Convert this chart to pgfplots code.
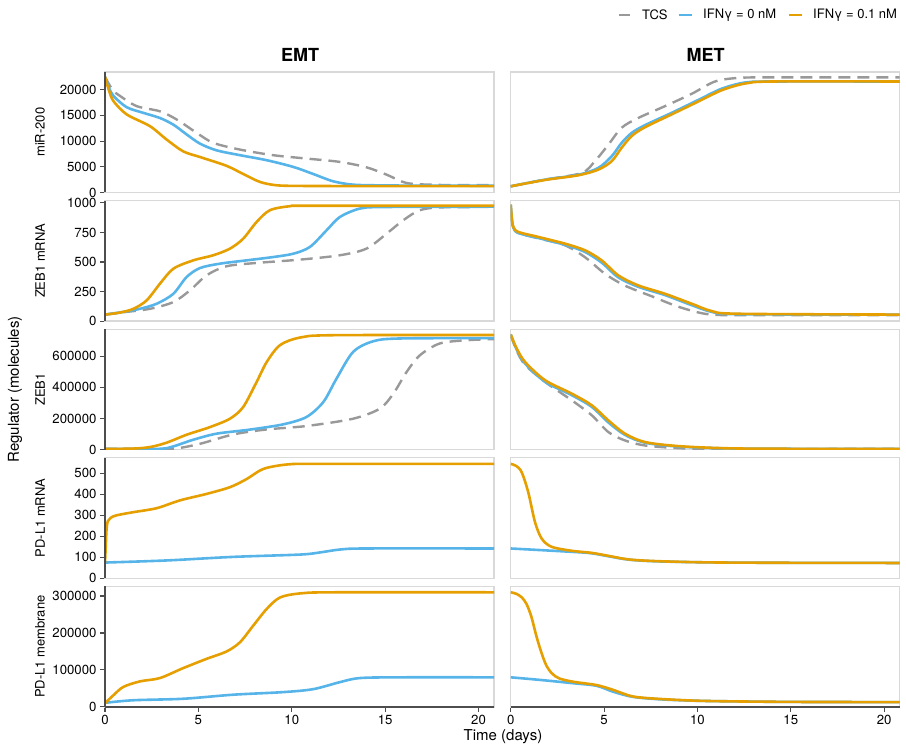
\documentclass[border=0pt]{standalone}
\usepackage{fontspec}
\setmainfont{TeX Gyre Heros}
\usepackage{pgfplots}
\pgfplotsset{compat=1.18}
\definecolor{cgray}{HTML}{999999}
\definecolor{cblue}{HTML}{56B4E9}
\definecolor{corange}{HTML}{E69F00}
\definecolor{bordergray}{HTML}{D9D9D9}
\definecolor{axisgray}{HTML}{4D4D4D}

\pgfplotsset{
  panel/.style={
    scale only axis, width=389pt, height=120.5pt,
    xmin=0, xmax=20.83, ymin=0,
    axis line style={draw=bordergray, line width=1.3pt},
    tick style={draw=axisgray, line width=1.1pt},
    major tick length=5pt, tick align=outside, tick pos=left,
    ticklabel style={font=\fontsize{13.2}{16}\selectfont},
    /pgf/number format/fixed,
    /pgf/number format/precision=0,
    /pgf/number format/1000 sep={},
    /pgf/number format/assume math mode=true,
    scaled ticks=false,
    xtick=\empty,
  },
  leftcol/.style={panel, at={(105pt,#1)},
    ylabel style={at={(axis description cs:-0.167,0.5)}, anchor=center, font=\fontsize{13}{15}\selectfont},
    after end axis/.append code={\draw[axisgray,line width=1.8pt] (rel axis cs:0,0)--(rel axis cs:0,1);}},
  rightcol/.style={panel, at={(510.7pt,#1)}, ytick=\empty},
  bottomrow/.style={xtick={0,5,10,15,20},
    after end axis/.append code={\draw[axisgray,line width=1.8pt] (rel axis cs:0,0)--(rel axis cs:1,0);}},
  tcs/.style={cgray, line width=2.4pt, dash pattern=on 12pt off 7pt, smooth},
  ifnz/.style={cblue, line width=2.6pt, smooth},
  ifno/.style={corange, line width=2.6pt, smooth},
}

\begin{document}
\begin{tikzpicture}
\useasboundingbox (0,0) rectangle (906pt,749pt);

% ---------------- Row 1: miR-200 ----------------
\begin{axis}[leftcol=556.5pt, ymax=23450, ytick={0,5000,10000,15000,20000}, ylabel={miR-200}]
\addplot[tcs] coordinates {(0,22500)(0.4,20000)(0.8,18800)(1.7,16800)(2.94,15800)(3.84,14200)(4.91,11600)(5.8,9660)(7.23,8350)(9.0,7260)(10.8,6600)(12.58,5950)(14.0,4900)(15.08,3470)(16.15,1850)(17.6,1500)(19,1450)(20.83,1450)};
\addplot[ifnz] coordinates {(0,22500)(0.2,20500)(0.45,18800)(1.16,16600)(2.05,15500)(2.94,14500)(3.66,13200)(4.37,11300)(5.09,9500)(5.98,8200)(7.23,7260)(8.66,6280)(10.08,4980)(11.15,3600)(12.22,2180)(13.29,1520)(14.9,1380)(17,1330)(20.83,1320)};
\addplot[ifno] coordinates {(0,22500)(0.2,20000)(0.45,17800)(1.16,15200)(2.41,12900)(3.3,10300)(4.19,8000)(5.09,6900)(6.5,5200)(7.4,3600)(8.3,2050)(9.19,1400)(10.4,1280)(13,1250)(20.83,1250)};
\end{axis}
\begin{axis}[rightcol=556.5pt, ymax=23450]
\addplot[tcs] coordinates {(0,1200)(1.84,2500)(3.8,3800)(4.51,6100)(5.23,9300)(5.94,12600)(6.83,14500)(8.26,16800)(9.69,19200)(10.94,21600)(12.2,22300)(14,22400)(20.83,22400)};
\addplot[ifnz] coordinates {(0,1200)(1.84,2500)(3.62,3450)(4.69,4780)(5.41,7060)(5.94,9660)(6.48,11600)(7.19,13100)(8.62,15500)(10.04,18000)(11.3,20200)(12.54,21400)(14,21600)(20.83,21600)};
\addplot[ifno] coordinates {(0,1200)(1.84,2440)(3.62,3350)(4.69,4450)(5.41,6100)(5.94,8700)(6.48,11000)(7.19,12700)(8.62,15200)(10.04,17700)(11.3,19900)(12.54,21200)(14,21600)(20.83,21600)};
\end{axis}

% ---------------- Row 2: ZEB1 mRNA ----------------
\begin{axis}[leftcol=427.9pt, ymax=1019.5, ytick={0,250,500,750,1000}, ylabel={ZEB1 mRNA}]
\addplot[tcs] coordinates {(0,55)(1,75)(2.41,104)(3.66,161)(4.55,260)(5.44,387)(6.51,464)(8.12,492)(10.44,520)(12.58,557)(14.0,613)(15.08,740)(15.97,853)(16.86,938)(18.0,962)(20.83,965)};
\addplot[ifnz] coordinates {(0,55)(1,78)(1.87,104)(2.77,147)(3.66,231)(4.37,373)(5.09,449)(6.16,486)(7.59,514)(9.01,542)(10.08,570)(10.97,627)(11.87,769)(12.58,881)(13.65,952)(14.9,965)(20.83,968)};
\addplot[ifno] coordinates {(0,55)(0.8,72)(1.52,104)(2.23,175)(2.94,316)(3.66,443)(4.73,514)(5.8,557)(6.69,613)(7.4,697)(8.12,839)(8.83,938)(9.9,972)(11,976)(20.83,976)};
\end{axis}
\begin{axis}[rightcol=427.9pt, ymax=1019.5]
\addplot[tcs] coordinates {(0,985)(0.05,880)(0.14,795)(0.41,745)(1.48,700)(2.91,641)(3.98,540)(5.05,400)(6.12,300)(7.55,210)(8.97,122)(10.4,62)(12,50)(20.83,50)};
\addplot[ifnz] coordinates {(0,985)(0.05,880)(0.14,790)(0.41,745)(1.48,703)(2.91,645)(3.98,585)(4.87,495)(5.76,370)(6.83,290)(8.26,220)(9.69,135)(10.76,78)(12.2,58)(20.83,55)};
\addplot[ifno] coordinates {(0,985)(0.05,885)(0.14,797)(0.41,754)(1.48,712)(2.91,655)(3.98,599)(4.87,514)(5.76,387)(6.83,302)(8.26,231)(9.69,147)(10.76,85)(12.2,62)(20.83,55)};
\end{axis}

% ---------------- Row 3: ZEB1 ----------------
\begin{axis}[leftcol=299.3pt, ymax=773600, ytick={0,200000,400000,600000}, ylabel={ZEB1}]
\addplot[tcs] coordinates {(0,5000)(2,5000)(3.66,6000)(5.09,38000)(6.87,98000)(8.66,130000)(10.79,152000)(13.29,199000)(14.72,264000)(15.44,360000)(16.15,499000)(16.86,606000)(17.93,682000)(19.4,703000)(20.83,710000)};
\addplot[ifnz] coordinates {(0,5000)(2,6000)(3.3,10000)(4.73,64000)(5.98,103000)(7.76,129000)(9.55,163000)(10.79,210000)(11.69,306000)(12.4,457000)(13.29,628000)(14.36,696000)(15.8,714000)(20.83,716000)};
\addplot[ifno] coordinates {(0,5000)(1.5,7000)(2.41,17000)(3.3,45000)(4.37,96000)(5.62,145000)(6.69,199000)(7.4,274000)(8.12,435000)(8.66,563000)(9.37,671000)(10.44,720000)(12.2,735000)(20.83,736000)};
\end{axis}
\begin{axis}[rightcol=299.3pt, ymax=773600]
\addplot[tcs] coordinates {(0,740000)(0.3,640000)(0.77,545000)(1.84,435000)(3.27,317000)(4.34,221000)(5.23,113000)(6.12,59000)(7.19,27000)(8.97,10000)(11,5000)(20.83,5000)};
\addplot[ifnz] coordinates {(0,740000)(0.3,648000)(0.77,553000)(1.84,436000)(3.27,350000)(4.34,275000)(5.23,175000)(6.12,95000)(7.19,45000)(8.97,20000)(11.3,9000)(14,6000)(20.83,5000)};
\addplot[ifno] coordinates {(0,740000)(0.3,655000)(0.77,563000)(1.84,446000)(3.27,360000)(4.34,285000)(5.23,188000)(6.12,103000)(7.19,49000)(8.97,23000)(11.3,10000)(14,6000)(20.83,5000)};
\end{axis}

% ---------------- Row 4: PD-L1 mRNA ----------------
\begin{axis}[leftcol=170.7pt, ymax=574, ytick={0,100,200,300,400,500}, ylabel={PD-L1 mRNA}]
\addplot[ifnz] coordinates {(0,75)(3.3,85)(6.87,102)(10.44,113)(11.5,123)(12.58,137)(13.97,142)(20.83,142)};
\addplot[ifno] coordinates {(0,75)(0.04,150)(0.08,230)(0.15,272)(0.3,288)(0.62,300)(1.52,315)(2.77,334)(4.01,371)(5.44,402)(6.69,434)(7.59,473)(8.48,521)(9.73,542)(11.3,545)(20.83,545)};
\end{axis}
\begin{axis}[rightcol=170.7pt, ymax=574]
\addplot[ifnz] coordinates {(0,142)(3.27,126)(4.34,119)(5.23,105)(6.3,89)(7.73,81)(10.4,76)(14,74)(20.83,73)};
\addplot[ifno] coordinates {(0,545)(0.3,535)(0.59,505)(0.94,410)(1.3,268)(1.66,189)(2.19,150)(3.27,131)(4.34,121)(5.23,107)(6.3,90)(7.73,82)(10.4,76)(14,74)(20.83,73)};
\end{axis}

% ---------------- Row 5: PD-L1 membrane ----------------
\begin{axis}[leftcol=42.1pt, bottomrow, ymax=326000, ytick={0,100000,200000,300000}, ylabel={PD-L1 membrane}]
\addplot[ifnz] coordinates {(0,11000)(1.52,18000)(4.19,22000)(6.87,33000)(9.55,40000)(11.15,48000)(12.58,67000)(13.65,78000)(15.8,80000)(20.83,80000)};
\addplot[ifno] coordinates {(0,10000)(0.45,31500)(0.98,54000)(1.87,69000)(2.94,78000)(4.19,105000)(5.44,130000)(6.51,150000)(7.23,175000)(7.94,220000)(8.66,265000)(9.37,296000)(10.44,307000)(12.2,310000)(20.83,310000)};
\end{axis}
\begin{axis}[rightcol=42.1pt, bottomrow, ymax=326000]
\addplot[ifnz] coordinates {(0,80000)(1.57,73000)(3.35,64000)(4.6,57000)(5.49,41000)(6.56,27000)(8.17,20000)(10.5,16000)(15,13500)(20.83,13000)};
\addplot[ifno] coordinates {(0,310000)(0.3,306000)(0.6,296000)(0.85,278000)(1.1,245000)(1.39,189000)(1.65,146000)(1.9,113000)(2.2,91000)(2.6,77000)(3.35,68000)(4.6,59000)(5.49,46000)(6.56,28000)(8.17,21000)(10.5,16000)(15,13500)(20.83,13000)};
\end{axis}

% legend
\begin{scope}[font=\fontsize{13}{15}\selectfont]
\draw[cgray, line width=2.4pt] (619pt,734pt) -- (630pt,734pt);
\node[anchor=west, inner sep=0pt] at (642pt,734pt) {TCS};
\draw[cblue, line width=2.6pt] (679pt,734pt) -- (692pt,734pt);
\node[anchor=west, inner sep=0pt] at (703pt,734pt) {IFNγ = 0 nM};
\draw[corange, line width=2.6pt] (789pt,734pt) -- (802pt,734pt);
\node[anchor=west, inner sep=0pt] at (813pt,734pt) {IFNγ = 0.1 nM};
\end{scope}

\node[font=\bfseries\fontsize{18}{20}\selectfont] at (300pt,694pt) {EMT};
\node[font=\bfseries\fontsize{18}{20}\selectfont] at (705.5pt,694pt) {MET};
\node[font=\fontsize{15}{17}\selectfont] at (503pt,12pt) {Time (days)};
\node[rotate=90, font=\fontsize{15}{17}\selectfont] at (15pt,359.5pt) {Regulator (molecules)};
\end{tikzpicture}
\end{document}
